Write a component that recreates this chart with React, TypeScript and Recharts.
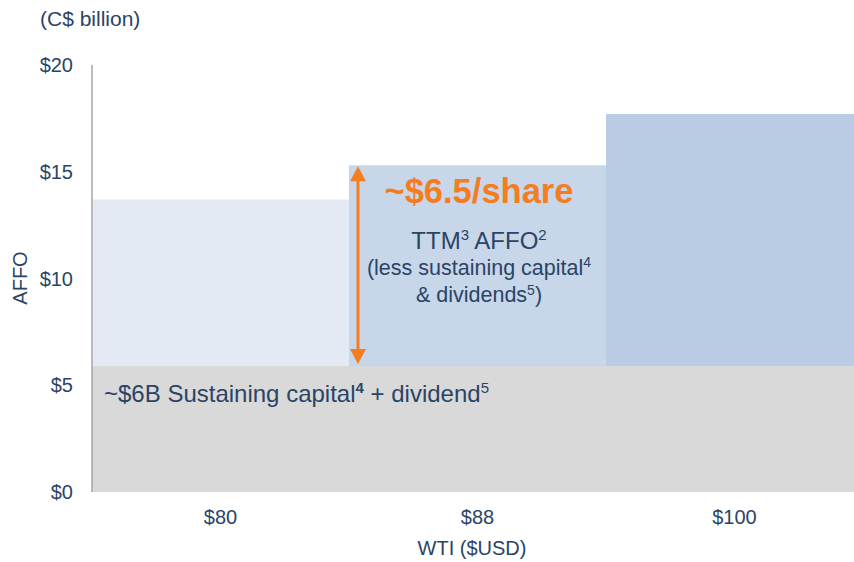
import React from 'react';
import { BarChart, Bar, XAxis, YAxis, Cell, LabelList } from 'recharts';

const categories = ['$80', '$88', '$100'];
const baseValues = [5.9, 5.9, 5.9];
const affoValues = [7.8, 9.4, 11.8];
const yTicks = [0, 5, 10, 15, 20];
const topColors = ['#e3eaf4', '#c8d6e9', '#b9cce4'];

const data = categories.map((c, i) => ({ wti: c, base: baseValues[i], affo: affoValues[i] }));

const FONT = '"Liberation Sans", Arial, Helvetica, sans-serif';
const TEXT = '#2a4466';
const ORANGE = '#f47d22';

const BaseNote = (props: any) => {
  if (props.value !== categories[0]) return null;
  const x = Number(props.x);
  const y = Number(props.y);
  return (
    <text x={x + 12} y={y + 36} fill={TEXT} fontSize={24} fontFamily={FONT}>
      ~$6B Sustaining capital
      <tspan fontSize={15} fontWeight="bold" dy={-9}>4</tspan>
      <tspan dy={9}> + dividend</tspan>
      <tspan fontSize={15} dy={-9}>5</tspan>
    </text>
  );
};

const AffoNote = (props: any) => {
  if (props.value !== categories[1]) return null;
  const x = Number(props.x);
  const y = Number(props.y);
  const h = Number(props.height);
  const ax = x + 9;
  const cx = x + 130;
  const top = y + 1;
  const bot = y + h - 2;
  return (
    <g>
      <line x1={ax} x2={ax} y1={top + 12} y2={bot - 12} stroke={ORANGE} strokeWidth={3} />
      <polygon points={`${ax},${top} ${ax - 8},${top + 15} ${ax + 8},${top + 15}`} fill={ORANGE} />
      <polygon points={`${ax},${bot} ${ax - 8},${bot - 15} ${ax + 8},${bot - 15}`} fill={ORANGE} />
      <text x={cx} y={y + 38} textAnchor="middle" fill={ORANGE} fontSize={34.5} fontWeight="bold" fontFamily={FONT}>
        ~$6.5/share
      </text>
      <text x={cx} y={y + 84} textAnchor="middle" fill={TEXT} fontSize={24} fontFamily={FONT}>
        TTM<tspan fontSize={15} dy={-9}>3</tspan>
        <tspan dy={9}> AFFO</tspan>
        <tspan fontSize={15} dy={-9}>2</tspan>
      </text>
      <text x={cx} y={y + 110} textAnchor="middle" fill={TEXT} fontSize={21.5} fontFamily={FONT}>
        (less sustaining capital<tspan fontSize={14} dy={-8}>4</tspan>
      </text>
      <text x={cx} y={y + 137} textAnchor="middle" fill={TEXT} fontSize={21.5} fontFamily={FONT}>
        &amp; dividends<tspan fontSize={14} dy={-7}>5</tspan>
        <tspan dy={7}>)</tspan>
      </text>
    </g>
  );
};

export default function App() {
  return (
    <div style={{ position: 'absolute', left: 0, top: 0, width: 854, height: 562, overflow: 'hidden', background: '#fff', fontFamily: FONT }}>
      <BarChart
        width={863}
        height={562}
        data={data}
        margin={{ top: 65, right: 0, bottom: 30, left: 0 }}
        barCategoryGap={0}
        barGap={0}
      >
        <XAxis
          dataKey="wti"
          axisLine={false}
          tickLine={false}
          tickSize={0}
          tickMargin={18}
          height={40}
          tick={{ fill: TEXT, fontSize: 20, fontFamily: FONT }}
        />
        <YAxis
          width={92}
          domain={[0, 20]}
          ticks={yTicks}
          tickFormatter={(v: number) => `$${v}`}
          axisLine={{ stroke: '#a6a6a6', strokeWidth: 1.5 }}
          tickLine={false}
          tickSize={0}
          tickMargin={19}
          tick={{ fill: TEXT, fontSize: 20, fontFamily: FONT }}
        />
        <Bar dataKey="base" stackId="a" fill="#d9d9d9" isAnimationActive={false}>
          <LabelList dataKey="wti" content={BaseNote} />
        </Bar>
        <Bar dataKey="affo" stackId="a" isAnimationActive={false}>
          {data.map((d, i) => (
            <Cell key={d.wti} fill={topColors[i]} />
          ))}
          <LabelList dataKey="wti" content={AffoNote} />
        </Bar>
      </BarChart>
      <div style={{ position: 'absolute', left: 40, top: 8, fontSize: 21, lineHeight: '21px', color: TEXT, whiteSpace: 'nowrap' }}>
        (C$ billion)
      </div>
      <div style={{ position: 'absolute', left: 372, width: 200, textAlign: 'center', top: 538, fontSize: 20, lineHeight: '20px', color: TEXT }}>
        WTI ($USD)
      </div>
      <div
        style={{
          position: 'absolute',
          left: 20 - 40,
          top: 278 - 10,
          width: 80,
          textAlign: 'center',
          fontSize: 20,
          lineHeight: '20px',
          color: TEXT,
          transform: 'rotate(-90deg)',
          transformOrigin: '40px 10px',
        }}
      >
        AFFO
      </div>
    </div>
  );
}
